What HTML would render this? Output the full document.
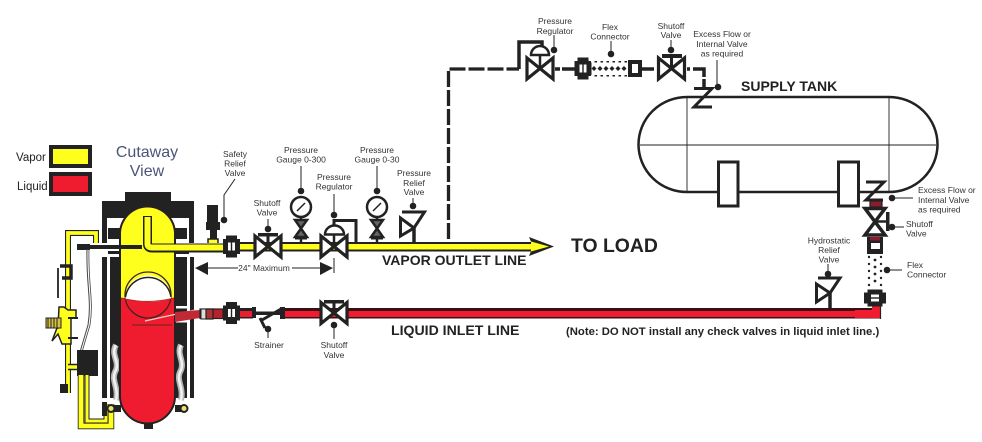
<!DOCTYPE html>
<html><head><meta charset="utf-8"><style>
html,body{margin:0;padding:0;background:#fff}
svg{display:block}
text{font-family:"Liberation Sans",sans-serif;fill:#222}
.s{font-size:8.500px;text-anchor:middle;fill:#333}
.l{font-size:8.500px;fill:#333}
.b{font-weight:bold;fill:#222}
</style></head><body>
<svg width="982" height="442" viewBox="0 0 982 442" xmlns="http://www.w3.org/2000/svg">
<defs>
<g id="v"><path d="M-13,-10.500 L13,10.500 L13,-10.500 L-13,10.500Z" fill="#fff" stroke="#222" stroke-width="3.200" stroke-linejoin="miter"/></g>
<g id="u"><rect x="-5.500" y="-11" width="11" height="22" fill="#222"/><rect x="-8.500" y="-7.500" width="17" height="15" fill="#222"/><rect x="-3.500" y="-4" width="7" height="8" fill="#fff"/><rect x="-.7" y="-4" width="1.400" height="8" fill="#222"/></g>
</defs>
<rect width="982" height="442" fill="#fff"/>

<!-- legend -->
<rect x="51" y="147" width="39" height="19" fill="#ffff1e" stroke="#222" stroke-width="4"/>
<rect x="51" y="174" width="39" height="20" fill="#ee1c2e" stroke="#222" stroke-width="4"/>
<text x="16" y="161" font-size="11.500" fill="#333">Vapor</text>
<text x="17" y="190" font-size="11.500" fill="#333">Liquid</text>
<text x="147" y="157" font-size="16" text-anchor="middle" style="fill:#4b5578">Cutaway</text>
<text x="147" y="176" font-size="16" text-anchor="middle" style="fill:#4b5578">View</text>

<!-- burner shell -->
<rect x="125" y="192" width="46" height="12" fill="#222"/>
<rect x="102" y="201" width="92" height="17" fill="#222"/>
<rect x="102" y="218" width="5" height="25" fill="#222"/>
<rect x="189" y="218" width="5" height="25" fill="#222"/>
<rect x="108" y="228" width="12" height="11" fill="#222"/>
<rect x="175" y="228" width="12" height="11" fill="#222"/>
<rect x="102" y="257" width="5" height="141" fill="#222"/>
<rect x="110" y="257" width="10" height="141" fill="#222"/>
<rect x="175" y="257" width="12" height="141" fill="#222"/>
<rect x="190" y="257" width="4" height="141" fill="#222"/>
<rect x="108" y="251" width="12" height="3" fill="#222"/>
<rect x="175" y="251" width="14" height="3" fill="#222"/>
<rect x="175" y="306" width="14" height="2.500" fill="#fff"/>
<rect x="175" y="320" width="14" height="2.500" fill="#fff"/>

<!-- flames -->
<path d="M116,345 C110,355 121,362 115,372 C111,380 119,388 116,400" stroke="#b5b5b5" stroke-width="6" fill="none"/>
<path d="M116,345 C110,355 121,362 115,372 C111,380 119,388 116,400" stroke="#f2f2f2" stroke-width="2.500" fill="none"/>
<path d="M181,345 C176,355 186,362 180,372 C176,380 184,388 181,400" stroke="#b5b5b5" stroke-width="6" fill="none"/>
<path d="M181,345 C176,355 186,362 180,372 C176,380 184,388 181,400" stroke="#f2f2f2" stroke-width="2.500" fill="none"/>

<!-- vessel -->
<path d="M120,234 A27.500,27.500 0 0 1 175,234 L175,396 A27.500,27.500 0 0 1 120,396 Z" fill="#ee1c2e" stroke="#222" stroke-width="2"/>
<path d="M121,234 A26.500,26.500 0 0 1 174,234 L174,298 L121,298 Z" fill="#ffff1e"/>
<circle cx="148" cy="295" r="23" fill="none" stroke="#422" stroke-width="1.300"/>
<path d="M125.500,295 A23,23 0 0 1 171,295 L171,299 Q148,305 125.500,299Z" fill="#fff"/>
<path d="M125.500,297 A23,23 0 0 1 171,297" fill="none" stroke="#222" stroke-width="1.500"/>
<path d="M121,298 Q148,305 174,298" fill="none" stroke="#b22" stroke-width="1"/>
<rect x="144" y="423" width="9" height="6" fill="#222"/>
<path d="M132,325 H172" stroke="#622" stroke-width="1"/>
<path d="M145,321 L195,310" stroke="#f4d0c8" stroke-width="1.200" fill="none"/>

<!-- internal vapor outlet -->
<path d="M147.500,216 V244 Q147.500,248 152,248 H224" fill="none" stroke="#222" stroke-width="9"/>
<path d="M147.500,217 V244 Q147.500,247.500 152,247.500 H224" fill="none" stroke="#ffff1e" stroke-width="6"/>
<path d="M77,247 H142" stroke="#222" stroke-width="4"/>

<!-- left controls -->
<path d="M96,243 V233 H68 V393" fill="none" stroke="#222" stroke-width="6"/>
<path d="M96,243 V233 H68 V393" fill="none" stroke="#ffff1e" stroke-width="3.800"/>
<rect x="77" y="244" width="13" height="6" fill="#222"/>
<path d="M87,249 C86,285 92,300 88,325 L80,352" fill="none" stroke="#444" stroke-width="1"/>
<path d="M89,249 C88,285 94,300 90,325 L82,352" fill="none" stroke="#444" stroke-width=".8"/>
<path d="M60,266 H71 V278 H62" fill="none" stroke="#222" stroke-width="3.500"/>
<path d="M58,268 V298" stroke="#222" stroke-width="1.800"/>
<path d="M59,307 H64 L68,310 H76 V318 H71 V344 H62 L58,334 L52,341 L57,328 H58Z" fill="#ffff1e" stroke="#222" stroke-width="1.500"/>
<rect x="46" y="318" width="15" height="10" fill="#d8c040" stroke="#222" stroke-width="1"/>
<path d="M48,318 V328 M51,318 V328 M54,318 V328 M57,318 V328" stroke="#222" stroke-width="1"/>
<path d="M68,318 H78 M68,338 H78" stroke="#222" stroke-width="2"/>
<rect x="60" y="384" width="8" height="9" fill="#222"/>
<path d="M68,367 H78" stroke="#222" stroke-width="6.500"/>
<path d="M68,367 H78" stroke="#ffff1e" stroke-width="3.500"/>
<rect x="77" y="350" width="21" height="26" fill="#222"/>
<path d="M81,375 V426 H111 V404" fill="none" stroke="#222" stroke-width="6.500"/>
<path d="M81,375 V426 H111 V404" fill="none" stroke="#ffff1e" stroke-width="4.800"/>
<path d="M87,375 V421 H106 V404" fill="none" stroke="#222" stroke-width="5"/>
<path d="M87,375 V421 H106 V404" fill="none" stroke="#ffff1e" stroke-width="3"/>
<rect x="102" y="402" width="5" height="14" fill="#222"/>
<rect x="108" y="405" width="13" height="7" fill="#222"/>
<rect x="175" y="405" width="10" height="7" fill="#222"/>
<circle cx="111" cy="408.500" r="3.500" fill="#e8e070" stroke="#222" stroke-width="2"/>
<circle cx="184" cy="408.500" r="3.500" fill="#e8e070" stroke="#222" stroke-width="2"/>

<!-- liquid side fitting -->
<path d="M175,312 L200,310 V318 L175,322Z" fill="#c12a35"/>
<rect x="200" y="309" width="23" height="9.500" fill="#b8202c" stroke="#222" stroke-width="1.200"/>
<rect x="201" y="309" width="5" height="10" fill="#ddd" stroke="#222" stroke-width="1"/>
<rect x="206" y="309" width="7" height="10" fill="#a33" stroke="#222" stroke-width="1.200"/>

<!-- vapor line -->
<rect x="224" y="242" width="312" height="9.500" fill="#222"/>
<rect x="224" y="244" width="312" height="5.500" fill="#ffff1e"/>
<path d="M529,237 L554,246.500 L529,256 L533,246.500Z" fill="#222"/>
<path d="M531,241.500 L549,246.500 L531,251.500Z" fill="#ffff1e"/>

<!-- safety relief valve -->
<rect x="207" y="205" width="11" height="18" fill="#222"/>
<rect x="206" y="222" width="14" height="8" fill="#222"/>
<rect x="210" y="230" width="7" height="9" fill="#222"/>
<path d="M208,243 V239 H218 V243" fill="#ffff1e" stroke="#222" stroke-width="1.500"/>
<use href="#u" x="231.500" y="246.500"/>

<!-- liquid line -->
<rect x="223" y="308" width="30" height="10.500" fill="#222"/>
<rect x="223" y="311" width="30" height="6" fill="#ee1c2e"/>
<rect x="284" y="308" width="596" height="10.500" fill="#3a1016"/>
<rect x="284" y="311" width="596" height="6" fill="#ee1c2e"/>
<rect x="872" y="303" width="8" height="15" fill="#ee1c2e"/>
<rect x="855" y="310" width="25" height="8" fill="#ee1c2e"/>
<path d="M880.500,303 V319" stroke="#222" stroke-width="1.200"/>
<use href="#u" x="231.500" y="313"/>
<rect x="252" y="307" width="4" height="11" fill="#222"/>
<rect x="253" y="311.500" width="29" height="3.500" fill="#222"/>
<rect x="280" y="307" width="5" height="12" fill="#222"/>
<path d="M281,309 L262,320 M260,318 L265,328" stroke="#222" stroke-width="3" fill="none"/>

<!-- valves on vapor -->
<use href="#v" x="268" y="246.500"/>
<path d="M268,246 V235" stroke="#222" stroke-width="3"/>
<rect x="258" y="233" width="20" height="3.500" fill="#222"/>
<use href="#v" x="334" y="246.500"/>
<path d="M334,246 V230" stroke="#222" stroke-width="2.500"/>
<path d="M325,234.500 A9.500,9 0 0 1 344,234.500 Z" fill="#fff" stroke="#222" stroke-width="2.500"/>
<path d="M334,225 V220.500 H356 V242" fill="none" stroke="#222" stroke-width="3"/>

<!-- liquid shutoff -->
<use href="#v" x="334" y="313"/>
<path d="M334,313 V302" stroke="#222" stroke-width="3"/>
<rect x="324" y="300" width="20" height="3.500" fill="#222"/>

<!-- gauges -->
<circle cx="301" cy="207" r="10" fill="#fff" stroke="#222" stroke-width="2.500"/>
<path d="M297,211 L305,203" stroke="#222" stroke-width="1.500"/>
<path d="M301,217 V242" stroke="#222" stroke-width="2.500"/>
<rect x="295" y="237.500" width="12" height="2" fill="#222"/>
<path d="M295,220 H307 L295,237 H307Z" fill="#666" stroke="#222" stroke-width="2.500"/>
<circle cx="377" cy="207" r="10" fill="#fff" stroke="#222" stroke-width="2.500"/>
<path d="M373,211 L381,203" stroke="#222" stroke-width="1.500"/>
<path d="M377,217 V242" stroke="#222" stroke-width="2.500"/>
<rect x="371" y="237.500" width="12" height="2" fill="#222"/>
<path d="M371,220 H383 L371,237 H383Z" fill="#666" stroke="#222" stroke-width="2.500"/>

<!-- relief valves -->
<path d="M402,212 H424.500 L414,228 L400.500,236 V218 L414,228" fill="#fff" stroke="#222" stroke-width="3"/>
<path d="M414,228 V242" stroke="#222" stroke-width="3.500"/>
<path d="M818,278 H840 L830,293 L816.500,302 V284 L830,293" fill="#fff" stroke="#222" stroke-width="3"/>
<path d="M830,293 V308" stroke="#222" stroke-width="3.500"/>

<!-- dashed run -->
<path d="M448.500,239 V69 H519" fill="none" stroke="#222" stroke-width="3.300" stroke-dasharray="16 3"/>
<path d="M519,69 V42 H542 V47" fill="none" stroke="#222" stroke-width="3.500"/>
<use href="#v" x="540" y="68.500"/>
<path d="M540,68 V55" stroke="#222" stroke-width="2.500"/>
<path d="M531,55 A9,9 0 0 1 549,55Z" fill="#fff" stroke="#222" stroke-width="2.500"/>
<path d="M555,69 H560 M562,69 H575" stroke="#222" stroke-width="3.500"/>
<use href="#u" x="583" y="68.500"/>
<g fill="#222">
<path d="M594,66 l2.500,2.500 l-2.500,2.500 l-2.500,-2.500Z M600,66 l2.500,2.500 l-2.500,2.500 l-2.500,-2.500Z M606,66 l2.500,2.500 l-2.500,2.500 l-2.500,-2.500Z M612,66 l2.500,2.500 l-2.500,2.500 l-2.500,-2.500Z M618,66 l2.500,2.500 l-2.500,2.500 l-2.500,-2.500Z M624,66 l2.500,2.500 l-2.500,2.500 l-2.500,-2.500Z"/>
<path d="M591,61 h38 v1.500 h-38Z M591,75 h38 v1.500 h-38Z"/>
</g>
<path d="M591,61.700 H629 M591,75.800 H629" stroke="#fff" stroke-width="1.600" stroke-dasharray="3.500 2.500"/>
<rect x="630" y="62" width="10" height="13" fill="#fff" stroke="#222" stroke-width="4"/>
<path d="M642,69 H654" stroke="#222" stroke-width="3.500"/>
<use href="#v" x="671.500" y="68.500"/>
<path d="M671.500,68 V57" stroke="#222" stroke-width="3"/>
<rect x="662" y="54" width="20" height="4" fill="#222"/>
<path d="M687,69 H690 M693,69 H704 V77 M704,79 V87" fill="none" stroke="#222" stroke-width="3.500"/>

<!-- tank -->
<path d="M687,97 H889 A48.500,47.500 0 0 1 889,192 H687 A48.500,47.500 0 0 1 687,97 Z" fill="#fff" stroke="#222" stroke-width="2.500"/>
<path d="M687,97 V192 M889,97 V192 M640,145 H936" stroke="#222" stroke-width=".9"/>
<rect x="718.500" y="162" width="19.500" height="44" fill="#fff" stroke="#222" stroke-width="3"/>
<rect x="838.500" y="162" width="20" height="44" fill="#fff" stroke="#222" stroke-width="3"/>

<!-- excess flow top -->
<path d="M694,88.500 H712 L694,107 H712" fill="none" stroke="#222" stroke-width="3"/>

<!-- excess flow bottom + vertical assembly -->
<path d="M866,182 H884 L866,200 H883" fill="none" stroke="#222" stroke-width="3"/>
<rect x="870" y="201" width="12" height="6" fill="#8a1c2c" stroke="#222" stroke-width="1.200"/>
<path d="M865,208.500 H885 L865,235 H885Z" fill="#fff" stroke="#222" stroke-width="3.500"/>
<path d="M875,221.500 H888" stroke="#222" stroke-width="2.500"/>
<rect x="886" y="212" width="3.500" height="19" fill="#222"/>
<rect x="867" y="237" width="16" height="17" fill="#222"/>
<rect x="871" y="243" width="9" height="6" fill="#fff"/>
<rect x="870" y="237" width="10" height="3.500" fill="#8a1c2c"/>
<g fill="#222">
<circle cx="869" cy="257" r="1.200"/><circle cx="881" cy="257" r="1.200"/><circle cx="875" cy="260" r="1.400"/>
<circle cx="869" cy="264" r="1.200"/><circle cx="881" cy="264" r="1.200"/><circle cx="875" cy="267" r="1.400"/>
<circle cx="869" cy="271" r="1.200"/><circle cx="881" cy="271" r="1.200"/><circle cx="875" cy="274" r="1.400"/>
<circle cx="869" cy="278" r="1.200"/><circle cx="881" cy="278" r="1.200"/><circle cx="875" cy="281" r="1.400"/>
<circle cx="869" cy="285" r="1.200"/><circle cx="881" cy="285" r="1.200"/>
</g>
<g transform="translate(875,298) rotate(90)"><use href="#u"/></g>

<!-- dimension -->
<path d="M195,268 L208,262 V275Z" fill="#222"/>
<path d="M208,268 H238 M292,268 H320" stroke="#222" stroke-width="1"/>
<path d="M333,268 L320,262 V275Z" fill="#222"/>
<path d="M334,258 V273" stroke="#222" stroke-width="1"/>
<text x="264" y="271" class="s">24" Maximum</text>

<!-- leaders -->
<g fill="#222" stroke="#222" stroke-width="1">
<path d="M224,220 V195 L235,179" fill="none"/><circle cx="224" cy="220" r="2.800"/>
<path d="M268,229 V219" fill="none"/><circle cx="268" cy="229" r="2.800"/>
<path d="M301,191 V166" fill="none"/><circle cx="301" cy="191" r="2.800"/>
<path d="M334,215 V194" fill="none"/><circle cx="334" cy="215" r="2.800"/>
<path d="M377,191 V166" fill="none"/><circle cx="377" cy="191" r="2.800"/>
<path d="M413,206 V198" fill="none"/><circle cx="413" cy="206" r="2.800"/>
<path d="M268,329 V338" fill="none"/><circle cx="268" cy="329" r="2.800"/>
<path d="M334,325 V339" fill="none"/><circle cx="334" cy="325" r="2.800"/>
<path d="M554,50 V35" fill="none"/><circle cx="554" cy="50" r="2.800"/>
<path d="M611,54 V41" fill="none"/><circle cx="611" cy="54" r="2.800"/>
<circle cx="671" cy="50" r="2.800"/><path d="M671,50 V40" fill="none"/>
<path d="M717,87 V60" fill="none"/><circle cx="718" cy="87" r="2.800"/>
<path d="M892,198 H913" fill="none"/><circle cx="892" cy="198" r="2.800"/>
<path d="M892,227 H904" fill="none"/><circle cx="892" cy="227" r="2.800"/>
<path d="M887,270 H902" fill="none"/><circle cx="887" cy="270" r="2.800"/>
<path d="M828,274 V264" fill="none"/><circle cx="828" cy="274" r="2.800"/>
</g>

<!-- small labels -->
<text class="s" x="235" y="157">Safety</text><text class="s" x="235" y="166.500">Relief</text><text class="s" x="235" y="176">Valve</text>
<text class="s" x="301" y="153">Pressure</text><text class="s" x="301" y="162.500">Gauge 0-300</text>
<text class="s" x="334" y="180">Pressure</text><text class="s" x="334" y="189.500">Regulator</text>
<text class="s" x="377" y="153">Pressure</text><text class="s" x="377" y="162.500">Gauge 0-30</text>
<text class="s" x="414" y="176">Pressure</text><text class="s" x="414" y="186">Relief</text><text class="s" x="414" y="195">Valve</text>
<text class="s" x="267" y="206">Shutoff</text><text class="s" x="267" y="215.500">Valve</text>
<text class="s" x="269" y="348">Strainer</text>
<text class="s" x="334" y="348">Shutoff</text><text class="s" x="334" y="358">Valve</text>
<text class="s" x="555" y="24">Pressure</text><text class="s" x="555" y="34">Regulator</text>
<text class="s" x="610" y="30">Flex</text><text class="s" x="610" y="39.500">Connector</text>
<text class="s" x="671" y="29">Shutoff</text><text class="s" x="671" y="38">Valve</text>
<text class="s" x="722" y="37">Excess Flow or</text><text class="s" x="722" y="47">Internal Valve</text><text class="s" x="722" y="56.500">as required</text>
<text class="l" x="918" y="193">Excess Flow or</text><text class="l" x="918" y="203">Internal Valve</text><text class="l" x="918" y="212.500">as required</text>
<text class="l" x="906" y="227">Shutoff</text><text class="l" x="906" y="236.500">Valve</text>
<text class="l" x="907" y="268">Flex</text><text class="l" x="907" y="277.500">Connector</text>
<text class="s" x="829" y="243.500">Hydrostatic</text><text class="s" x="829" y="253">Relief</text><text class="s" x="829" y="262.500">Valve</text>

<!-- big labels -->
<text class="b" x="571" y="252" font-size="19.400">TO LOAD</text>
<text class="b" x="382" y="265" font-size="14">VAPOR OUTLET LINE</text>
<text class="b" x="391" y="335" font-size="14.100">LIQUID INLET LINE</text>
<text class="b" x="741" y="91" font-size="14">SUPPLY TANK</text>
<text class="b" x="566" y="335" font-size="11.300">(Note: DO NOT install any check valves in liquid inlet line.)</text>
</svg>
</body></html>
